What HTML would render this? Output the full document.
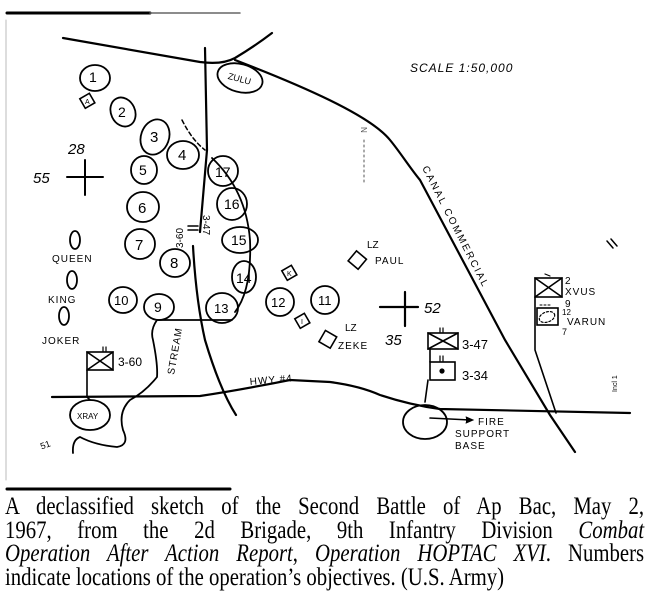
<!DOCTYPE html>
<html><head><meta charset="utf-8"><style>
html,body{margin:0;padding:0;background:#fff;width:647px;height:600px;overflow:hidden}
svg{position:absolute;left:0;top:0}
.cap{position:absolute;left:5px;top:495px;width:770px;font-family:"Liberation Serif",serif;font-size:25px;line-height:23.5px;color:#000;transform:scaleX(0.83);transform-origin:0 0}
.cap div{text-align:justify;text-align-last:justify;white-space:nowrap}
.cap div.l{text-align-last:left}
.cap i{font-style:italic}
</style></head><body>
<svg width="647" height="492" viewBox="0 0 647 492" font-family="Liberation Sans, sans-serif" fill="none" stroke="#000" stroke-width="2.2" stroke-linecap="round">
<line x1="7" y1="13" x2="150" y2="13" stroke-width="3"/>
<line x1="150" y1="13" x2="240" y2="13" stroke-width="1.5" stroke="#666"/>
<line x1="7" y1="489" x2="230" y2="489" stroke-width="3"/>
<line x1="6" y1="20" x2="6" y2="480" stroke-width="1" stroke="#bbb"/>
<path d="M63,38 Q130,50 200,62 Q222,65 235,58 Q255,46 272,33"/>
<path d="M235,60 C300,85 370,115 390,140 C400,152 410,168 420,180 L505,340 L550,415 L575,452"/>
<path d="M205,48 L207,150 L200,232 M193,246 Q196,300 205,340 Q220,390 236,415"/>
<path d="M52,397 L200,396 Q240,390 290,380 L330,382 Q360,386 380,395 Q410,405 440,409 L630,413"/>
<path d="M157,320 L232,320 M157,320 Q150,330 153,340 Q158,365 157,377 Q145,392 130,400 Q118,412 123,430 Q130,445 117,447 Q95,445 80,437 Q72,440 73,453" stroke-width="1.8"/>
<path d="M182,120 Q192,140 205,150" stroke-dasharray="4,3" stroke-width="1.5"/>
<path d="M212,158 Q246,190 250,240 Q252,290 235,312" stroke-width="1.8"/>
<g stroke-width="1.8">
<ellipse cx="95" cy="78" rx="15" ry="13"/>
<ellipse cx="123" cy="112" rx="12" ry="15" transform="rotate(-25 123 112)"/>
<ellipse cx="155" cy="137" rx="14" ry="18" transform="rotate(20 155 137)"/>
<ellipse cx="183" cy="155" rx="16" ry="14"/>
<ellipse cx="144" cy="170" rx="13" ry="14"/>
<ellipse cx="223" cy="171" rx="15" ry="15"/>
<ellipse cx="143" cy="207" rx="16" ry="15"/>
<ellipse cx="232" cy="204" rx="15" ry="16"/>
<ellipse cx="140" cy="244" rx="15" ry="15"/>
<ellipse cx="240" cy="240" rx="18" ry="13"/>
<ellipse cx="175" cy="263" rx="15" ry="14"/>
<ellipse cx="244" cy="277" rx="12" ry="16"/>
<ellipse cx="123" cy="300" rx="14" ry="13"/>
<ellipse cx="159" cy="307" rx="15" ry="13"/>
<ellipse cx="222" cy="308" rx="16" ry="15"/>
<ellipse cx="280" cy="302" rx="14" ry="14"/>
<ellipse cx="325" cy="300" rx="14" ry="14"/>
<ellipse cx="240" cy="78" rx="23" ry="14" transform="rotate(15 240 78)"/>
<ellipse cx="75" cy="240" rx="5" ry="9"/>
<ellipse cx="72" cy="280" rx="5" ry="9"/>
<ellipse cx="64" cy="316" rx="5" ry="9"/>
<ellipse cx="90" cy="415" rx="20" ry="15"/>
<ellipse cx="425" cy="422" rx="22" ry="17"/>
</g>
<g stroke-width="1.6">
<rect x="82" y="95" width="11" height="11" transform="rotate(-30 88 101)"/>
<rect x="284" y="267" width="11" height="11" transform="rotate(-30 290 273)"/>
<rect x="297" y="315" width="11" height="11" transform="rotate(-30 303 321)"/>
<rect x="351" y="254" width="13" height="13" transform="rotate(40 358 260)"/>
<rect x="321" y="333" width="13" height="13" transform="rotate(30 328 340)"/>
</g>
<path d="M85,160 V195 M67,177 H103" stroke-width="2"/>
<path d="M405,292 V326 M380,307 H418" stroke-width="2.2"/>
<path d="M364,140 V185" stroke-width="1" stroke-dasharray="2,3" stroke="#555"/>
<g stroke-width="1.6">
<rect x="87" y="352" width="26" height="18"/><path d="M87,352 L113,370 M113,352 L87,370 M87,370 V397 L90,400"/>
<path d="M103,347 V351 M106,347 V351" stroke-width="1.2"/>
<rect x="428" y="333" width="30" height="16"/><path d="M428,333 L458,349 M458,333 L428,349"/>
<path d="M440,328 V332 M443,328 V332" stroke-width="1.2"/>
<rect x="430" y="362" width="25" height="18"/><circle cx="442" cy="371" r="1.8" fill="#000"/>
<path d="M440,356 V361 M443,356 V361" stroke-width="1.2"/>
<path d="M430,349 V362 M428,380 L425,402"/>
<path d="M430,418 L470,420"/><path d="M466,417 L473,420 L466,423" fill="#000" stroke-width="1"/>
<rect x="535" y="278" width="27" height="19"/><path d="M535,278 L562,297 M562,278 L535,297"/>
<path d="M545,274 L550,276" stroke-width="1.2"/>
<rect x="537" y="308" width="21" height="17"/><ellipse cx="547" cy="317" rx="8" ry="5" stroke-dasharray="2,2" transform="rotate(-20 547 317)" stroke-width="1.2"/>
<path d="M540,305 H552" stroke-width="1" stroke-dasharray="2,2"/>
<path d="M535,297 V350 L556,413"/>
<path d="M607,241 L613,248 M611,239 L617,246" stroke-width="1.5"/>
</g>
<g fill="#000" stroke="none" font-size="12">
<text x="410" y="72" font-size="12" letter-spacing="1" font-style="italic">SCALE 1:50,000</text>
<text x="228" y="82" font-size="9" transform="rotate(15 240 78)">ZULU</text>
<text x="361" y="133" font-size="8" fill="#555" transform="rotate(90 364 130)">N</text>
<text x="89" y="82" font-size="14">1</text>
<text x="118" y="117" font-size="14">2</text>
<text x="150" y="142" font-size="15">3</text>
<text x="178" y="160" font-size="15">4</text>
<text x="139" y="175" font-size="14">5</text>
<text x="215" y="177" font-size="14">17</text>
<text x="138" y="213" font-size="15">6</text>
<text x="224" y="209" font-size="14">16</text>
<text x="135" y="250" font-size="15">7</text>
<text x="231" y="245" font-size="14">15</text>
<text x="170" y="268" font-size="15">8</text>
<text x="236" y="283" font-size="14">14</text>
<text x="114" y="305" font-size="13">10</text>
<text x="154" y="312" font-size="14">9</text>
<text x="214" y="313" font-size="13">13</text>
<text x="271" y="307" font-size="13">12</text>
<text x="318" y="305" font-size="13">11</text>
<text x="85" y="104" font-size="7">A</text>
<text x="287" y="276" font-size="7">K</text>
<text x="301" y="324" font-size="7">I</text>
<text x="68" y="154" font-size="15" font-style="italic">28</text>
<text x="33" y="183" font-size="15" font-style="italic">55</text>
<text x="424" y="313" font-size="15" font-style="italic">52</text>
<text x="385" y="345" font-size="15" font-style="italic">35</text>
<text x="52" y="262" font-size="10" letter-spacing="1">QUEEN</text>
<text x="48" y="303" font-size="10" letter-spacing="1">KING</text>
<text x="42" y="344" font-size="10" letter-spacing="1">JOKER</text>
<text x="118" y="366" font-size="12">3-60</text>
<text x="77" y="419" font-size="8">XRAY</text>
<text x="462" y="349" font-size="13">3-47</text>
<text x="462" y="380" font-size="13">3-34</text>
<text x="478" y="425" font-size="10" letter-spacing="1">FIRE</text>
<text x="455" y="437" font-size="10" letter-spacing="1">SUPPORT</text>
<text x="455" y="449" font-size="10" letter-spacing="1">BASE</text>
<text x="367" y="248" font-size="10">LZ</text>
<text x="375" y="264" font-size="10" letter-spacing="1">PAUL</text>
<text x="345" y="331" font-size="10">LZ</text>
<text x="338" y="349" font-size="10" letter-spacing="1">ZEKE</text>
<text x="565" y="284" font-size="10">2</text>
<text x="565" y="295" font-size="10" letter-spacing="1">XVUS</text>
<text x="565" y="307" font-size="10">9</text>
<text x="562" y="315" font-size="8">12</text>
<text x="567" y="325" font-size="10" letter-spacing="1">VARUN</text>
<text x="562" y="335" font-size="9">7</text>
<text x="40" y="448" font-size="9" transform="rotate(-20 45 444)">51</text>
<text x="0" y="0" font-size="7" transform="translate(617,392) rotate(-90)">Incl 1</text>
<text x="250" y="385" font-size="10" letter-spacing="1" transform="rotate(-5 250 385)">HWY #4</text>
<text x="0" y="0" font-size="10" letter-spacing="1" transform="translate(174,375) rotate(-80)">STREAM</text>
<text x="0" y="0" font-size="10" transform="translate(183,248) rotate(-90)">3-60</text>
<text x="0" y="0" font-size="10" transform="translate(203,215) rotate(90)">3-47</text>
<path d="M188,226 L198,226 M188,230 L198,230" stroke="#000" stroke-width="1.5"/>
<text x="0" y="0" font-size="10" letter-spacing="2" transform="translate(422,168) rotate(63)">CANAL COMMERCIAL</text>
</g>
</svg>
<div class="cap">
<div>A declassified sketch of the Second Battle of Ap Bac, May 2,</div>
<div>1967, from the 2d Brigade, 9th Infantry Division <i>Combat</i></div>
<div><i>Operation After Action Report</i>, <i>Operation HOPTAC XVI</i>. Numbers</div>
<div class="l">indicate locations of the operation’s objectives. (U.S. Army)</div>
</div>
</body></html>
